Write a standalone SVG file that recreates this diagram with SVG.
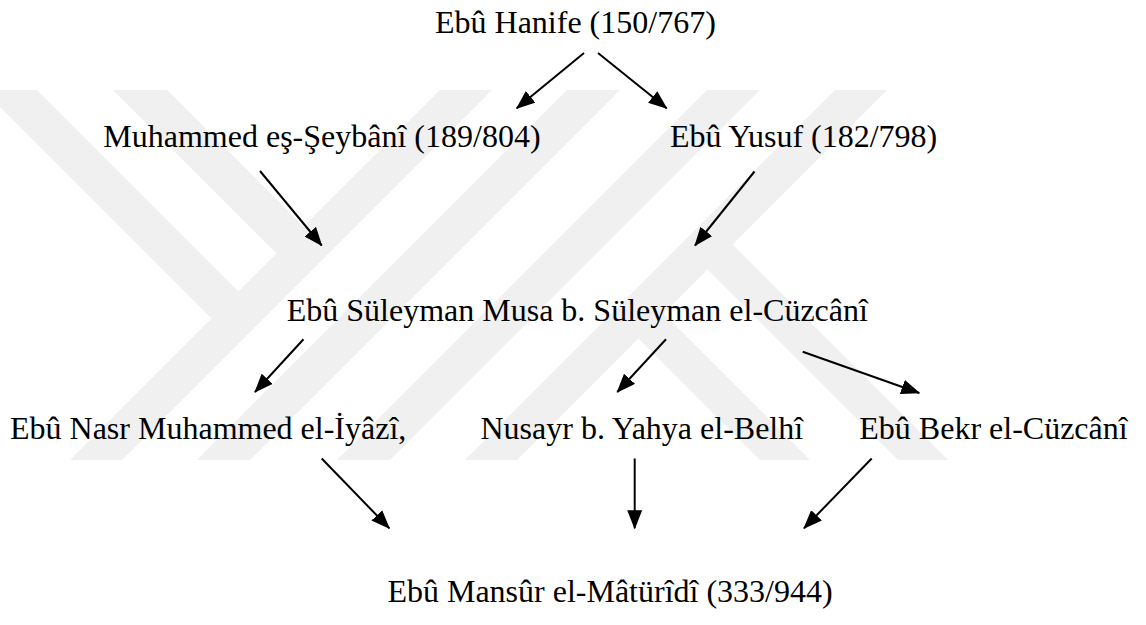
<svg xmlns="http://www.w3.org/2000/svg" width="1146" height="625" viewBox="0 0 1146 625">
  <style>
    .wm { fill: #f0f0f0; stroke: none; }
    .lbl { font-family: "Liberation Serif", "Times New Roman", serif; font-size: 32px; fill: #000000; }
    .edge { stroke: #000000; stroke-width: 2; fill: none; marker-end: url(#arrow); }
  </style>
  <defs>
    <marker id="arrow" markerUnits="userSpaceOnUse" markerWidth="19" markerHeight="15" refX="18" refY="7.5" orient="auto">
      <path d="M0,0 L19,7.5 L0,15 z" fill="#000000"/>
    </marker>
  </defs>
  <rect x="0" y="0" width="1146" height="625" fill="#ffffff"/>

  <!-- watermark -->
  <g id="watermark">
    <polygon class="wm" points="-17,90 37,90 238.5,291.5 211.5,318.5"/>
    <polygon class="wm" points="113,90 167,90 303.5,226.5 276.5,253.5"/>
    <polygon class="wm" points="440,90 492,90 122,460 70,460"/>
    <polygon class="wm" points="567,90 620,90 250,460 197,460"/>
    <polygon class="wm" points="707,90 760,90 390,460 337,460"/>
    <polygon class="wm" points="835,90 887,90 517,460 465,460"/>
    <polygon class="wm" points="732.5,244.5 948,460 898,460 707.5,269.5"/>
    <polygon class="wm" points="663.5,313.5 810,460 760,460 638.5,338.5"/>
  </g>

  <g id="connectors">
    <line class="edge" x1="584" y1="53" x2="516.7" y2="108.3"/>
    <line class="edge" x1="598" y1="53" x2="666.7" y2="108.3"/>
    <line class="edge" x1="260" y1="171" x2="321.7" y2="245.5"/>
    <line class="edge" x1="754.5" y1="171.5" x2="695" y2="245.5"/>
    <line class="edge" x1="303.5" y1="339.3" x2="255" y2="392"/>
    <line class="edge" x1="666" y1="339.3" x2="617.3" y2="392"/>
    <line class="edge" x1="802.7" y1="351.7" x2="919.3" y2="393"/>
    <line class="edge" x1="321.7" y1="458.5" x2="389.3" y2="528.3"/>
    <line class="edge" x1="634.7" y1="458.5" x2="634.7" y2="528.3"/>
    <line class="edge" x1="871.7" y1="458.5" x2="804" y2="528.3"/>
  </g>

  <g id="node-hanife"><text class="lbl" x="435" y="33.3">Ebû Hanife (150/767)</text></g>
  <g id="node-seybani"><text class="lbl" x="103.3" y="146.7">Muhammed eş-Şeybânî (189/804)</text></g>
  <g id="node-yusuf"><text class="lbl" x="670" y="146.7">Ebû Yusuf (182/798)</text></g>
  <g id="node-cuzcani-musa"><text class="lbl" x="286.7" y="321">Ebû Süleyman Musa b. Süleyman el-Cüzcânî</text></g>
  <g id="node-iyazi"><text class="lbl" x="10" y="439">Ebû Nasr Muhammed el-İyâzî,</text></g>
  <g id="node-belhi"><text class="lbl" x="480.5" y="439">Nusayr b. Yahya el-Belhî</text></g>
  <g id="node-cuzcani-bekr"><text class="lbl" x="859.3" y="439">Ebû Bekr el-Cüzcânî</text></g>
  <g id="node-maturidi"><text class="lbl" x="387.4" y="602">Ebû Mansûr el-Mâtürîdî (333/944)</text></g>
</svg>
